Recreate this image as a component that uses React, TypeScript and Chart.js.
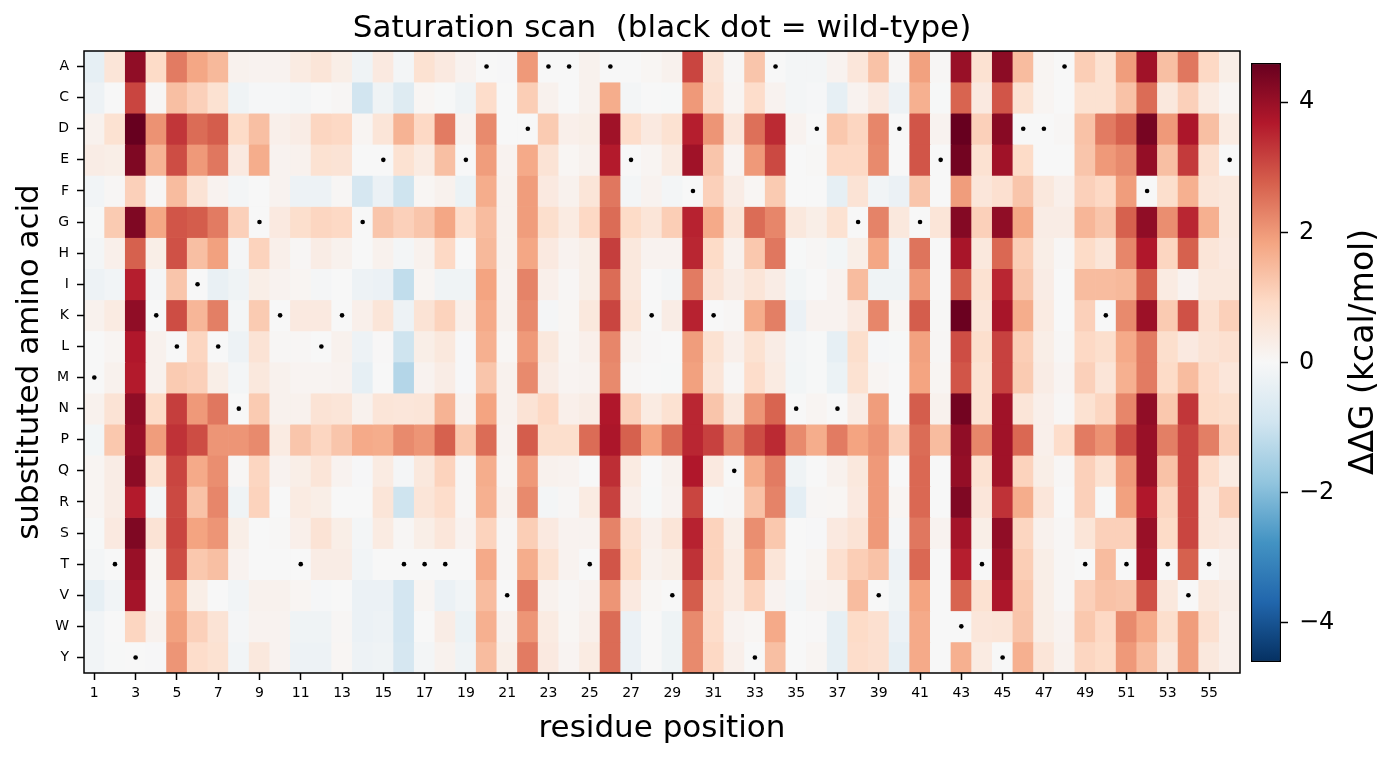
import React, { useEffect, useRef } from 'react';
import { Chart, registerables } from 'chart.js';

Chart.register(...registerables);

const TITLE = 'Saturation scan  (black dot = wild-type)';
const X_LABEL = 'residue position';
const Y_LABEL = 'substituted amino acid';
const CB_LABEL = 'ΔΔG (kcal/mol)';

const AMINO_ACIDS = ['A', 'C', 'D', 'E', 'F', 'G', 'H', 'I', 'K', 'L', 'M', 'N', 'P', 'Q', 'R', 'S', 'T', 'V', 'W', 'Y'];
const POSITIONS = Array.from({ length: 56 }, (_, i) => String(i + 1));
const WILD_TYPE = 'MTYKLILNGKTLKGETTTEAVDAATAEKVFKQYANDNGVDGEWTYDDATKTFTVTE'.split('');
const CB_TICKS = [-4, -2, 0, 2, 4];
const VMIN = -4.6;
const VMAX = 4.6;

// ddG per substituted amino acid (rows), positions 1..56
const DDG_A = [-0.4,0.6,4.1,0.9,2.4,1.8,1.5,0.2,0.15,0.15,0.4,0.6,0.3,-0.2, 0.45,-0.1,0.7,0.45,0.15,0,-0.03,2.0,0,0,0.2,0,0,0.08, 0.2,3.1,0.65,0.05,1.3,0,-0.1,-0.1,0.15,0.55,1.35,0.05,1.9,0.05, 4.0,0.7,4.15,1.45,0.1,0,1.15,0.7,1.95,3.9,1.4,2.45,0.95,0.3];
const DDG_C = [-0.25,0,3.1,0.05,1.4,1.1,0.7,-0.2,-0.05,-0.05,-0.1,0,0.05,-0.9, -0.2,-0.6,0.08,-0.02,-0.2,0.85,0,1.15,0.2,0,0.2,1.7,-0.1,0, -0.02,2.0,0.75,0.1,0.85,0.15,-0.1,-0.06,-0.4,0.15,0.45,-0.25,1.65,-0.02, 2.7,0.45,2.9,0.7,0.1,0,0.7,0.7,1.35,2.6,0.5,1.1,0.4,0.1];
const DDG_D = [0.2,0.7,4.6,2.1,3.3,2.6,2.8,0.9,1.4,0.25,0.35,1.0,0.95,0.1, 0.6,1.6,0.95,2.4,0.15,2.2,0,0,1.2,0.25,0.3,3.9,0.85,0.45, 0.7,3.6,2.05,0.55,2.55,3.45,0.15,0,1.25,1.0,2.25,0,2.9,0.15, 4.6,1.1,4.2,0,0,0.05,1.35,2.4,2.75,4.4,2.0,3.75,1.4,0.4];
const DDG_E = [0.35,0.3,4.3,1.6,3.0,2.0,2.45,0.45,1.7,0.15,0.2,0.7,0.65,0, 0,0.7,0.4,1.4,0,1.95,0.15,1.75,0.65,0.08,0.2,3.65,0,0.1, 0.4,3.9,1.3,0.12,2.0,3.05,0,0.03,0.95,0.95,2.2,0,2.9,0, 4.45,0.7,3.9,0.9,0,0,1.3,2.0,2.2,4.05,1.4,3.25,0.75,0];
const DDG_F = [-0.15,0.05,1.1,0.05,1.45,0.65,0.15,-0.1,0,0.15,-0.25,-0.25,0.05,-0.8, -0.3,-0.95,0.08,0.2,-0.28,1.7,0.2,1.95,0.45,0.2,0.6,2.45,-0.1,0.15, -0.1,0,1.1,0.35,0.08,1.2,0,0,-0.4,0.65,-0.15,-0.3,1.3,0, 1.95,0.55,0.75,1.3,0.5,0.25,1.1,0.95,1.95,0,0.8,1.65,0.6,0.5];
const DDG_G = [-0.02,1.2,4.3,1.8,2.9,2.8,2.4,1.1,0,0.45,0.8,1.0,0.95,0, 1.3,1.1,1.3,1.8,0.85,1.45,0.2,1.95,0.8,0.4,0.95,2.6,0.9,0.6, 1.15,3.55,1.75,0.6,2.6,2.25,0.5,0.3,0.7,0,2.3,0.5,0,0.6, 4.25,1.1,4.1,1.8,0.35,0.35,1.55,1.3,2.75,4.1,2.15,3.5,1.65,0.5];
const DDG_H = [-0.1,0.25,2.75,0.3,2.95,1.4,1.9,-0.08,1.05,0.25,0.05,0.35,0.2,0, 0.2,-0.1,0.2,0.95,0,1.5,0.2,1.8,0.45,0.15,0.3,3.2,0.5,0.15, 0.15,3.5,0.9,0.2,1.25,2.45,-0.02,0.05,-0.12,0.3,1.8,-0.15,2.5,0, 3.8,0.5,2.65,1.15,0.3,0.05,0.9,0.6,2.25,3.7,1.0,2.75,0.6,0.45];
const DDG_I = [-0.25,-0.15,3.6,-0.08,1.3,0,-0.35,-0.2,0.3,0.15,0.1,-0.08,0,-0.25, -0.3,-1.15,0.1,-0.2,-0.2,1.85,0.15,2.3,0.25,0.05,0.3,2.6,0.5,0, -0.1,2.4,0.65,0.35,0.6,0.35,-0.12,0,0.15,1.45,-0.2,-0.2,2.0,0, 2.8,0.7,3.5,1.3,0.35,0,1.45,1.45,1.5,2.75,0.4,0.15,0.5,0.5];
const DDG_K = [0.2,0.4,4.1,0,3.0,1.55,2.35,-0.1,1.2,0,0.45,0.45,0,0.25, 0.6,-0.25,0.65,1.05,0.25,1.75,0.2,2.2,-0.08,0.08,0.5,3.1,0.6,0, 0.35,3.55,0,0.05,1.7,2.35,-0.3,0.15,0.15,0.45,2.25,0.1,2.8,0.03, 4.55,0.6,3.8,1.7,0.4,0,1.1,0,2.2,3.95,1.2,2.95,0.75,1.1];
const DDG_L = [0,0.1,3.7,0.2,0,1.0,0,-0.25,0.65,0.05,0.05,0,0.2,-0.25, 0.02,-0.95,0.3,0.5,-0.03,1.65,0.08,2.0,0.5,0.1,0.25,2.25,0.2,0.02, 0,1.95,0.7,0.25,0.7,0.35,-0.1,-0.02,-0.4,0.8,-0.06,-0.02,1.9,0.05, 3.0,0.8,3.15,1.15,0.3,0.05,0.95,0.8,1.75,2.4,0.8,0.45,0.65,0.75];
const DDG_M = [0,0.2,3.65,0.2,1.2,1.1,0.3,-0.1,0.5,0.2,0.12,0.12,0.15,-0.4, 0,-1.35,0.15,0.35,-0.03,1.3,0.2,2.2,0.35,0.12,0.15,2.2,0.05,0, -0.02,1.9,0.6,0.05,0.85,0.4,-0.12,-0.02,-0.28,0.7,0.1,0,1.85,0.1, 2.9,0.7,3.15,1.2,0.35,0.12,1.1,0.6,1.65,2.4,0.9,1.45,0.85,0.55];
const DDG_N = [0.2,0.65,4.1,0.9,3.2,2.0,2.45,0,1.2,0.2,0.2,0.65,0.6,0.2, 0.6,0.55,0.6,1.6,0.15,1.85,0.2,0.65,0.95,0.25,0.35,3.7,1.1,0.4, 0.7,3.5,1.3,0.5,2.05,2.7,0,0.1,0,0.35,1.95,0,2.8,0.2, 4.45,0.7,3.9,0.6,0.25,0.05,0.7,1.0,2.25,4.1,1.25,3.3,0.9,0.8];
const DDG_P = [-0.12,1.25,4.0,1.95,3.35,3.0,2.05,2.05,2.2,0.4,1.3,1.0,1.3,1.75, 1.7,2.2,2.05,2.75,1.25,2.6,0.15,2.8,0.8,0.8,2.6,3.75,2.75,1.85, 2.6,3.5,3.15,2.3,3.0,3.45,2.2,1.7,2.4,1.85,2.1,1.1,2.6,1.45, 4.1,2.25,3.9,2.65,0.25,0.85,2.4,2.1,3.0,4.0,2.35,3.1,2.35,1.1];
const DDG_Q = [0.1,0.35,4.15,0.7,3.1,1.75,2.15,0.05,1.0,0.15,0.3,0.6,0.15,-0.03, 0.4,-0.08,0.5,1.05,0.05,1.7,0.1,2.0,0.2,0.15,0,3.4,0.4,0, 0.2,3.7,0.45,0,1.7,2.4,-0.2,0,0.2,0.5,2.0,0,2.65,0, 4.05,0.7,3.9,1.05,0.3,0.05,1.1,0.7,2.0,4.0,1.35,3.1,0.85,0.4];
const DDG_R = [0.1,0.35,3.65,-0.1,3.05,1.35,2.25,-0.2,1.05,0,0.4,0.3,0,0, 0.6,-0.95,0.6,0.85,0.05,1.65,0.2,2.2,-0.1,0.05,0.4,3.15,0.25,-0.02, 0.15,3.1,-0.02,0.05,1.35,2.3,-0.45,0.05,0.08,0.45,2.0,0.1,2.65,0, 4.3,0.55,3.35,1.7,0.55,0,1.1,-0.02,1.9,3.7,1.0,3.1,0.55,1.1];
const DDG_S = [-0.02,0.45,4.3,0.65,3.1,1.85,2.05,0.3,0,0.03,0.25,0.65,0.3,-0.1, 0.4,0.05,0.3,0.55,0.15,1.05,0.05,1.15,0.45,0.15,0.15,2.3,0.75,0.25, 0.6,3.55,1.05,0.3,2.15,1.25,0,-0.03,0.45,0.65,2.0,-0.08,2.45,0.15, 3.85,0.3,4.1,1.0,0.2,0.05,0.6,1.1,1.1,4.0,0.9,3.1,0.55,0.45];
const DDG_T = [-0.1,0,4.0,0.1,3.0,1.25,1.4,0.15,0,0,0,0.35,0.35,-0.15, 0,0,0,0,0,1.75,0.05,1.7,0.7,0.15,0,2.9,0.9,0.2, 0.3,3.35,1.05,0.4,1.9,0.6,0,0.1,0.75,1.15,1.35,-0.25,2.65,0, 3.6,0,3.95,1.15,0.3,0.05,0,1.45,0,3.9,0,2.75,0,0.2];
const DDG_V = [-0.4,-0.15,3.85,0.05,1.75,0.3,0,-0.15,0.2,0.2,0.1,-0.05,0,-0.3, -0.3,-0.85,0.1,-0.3,-0.15,1.45,0,2.4,0.2,0.05,0.15,2.05,0.45,0.08, 0,2.8,0.75,0.4,1.05,0.15,-0.1,0.15,0.2,1.45,0,-0.2,1.85,0, 2.7,0.7,3.75,1.25,0.3,0.05,1.1,1.35,1.3,2.95,0.5,0,0.5,0.35];
const DDG_W = [-0.15,0,1.0,0.2,1.9,1.1,0.65,-0.08,0.15,0.15,-0.2,-0.2,0.05,-0.3, -0.25,-0.85,0,0.35,-0.28,1.65,0.2,2.05,0.4,0.08,0.25,2.6,-0.3,0, -0.22,2.2,0.85,0.15,0.08,1.75,0,0.02,-0.4,0.9,0.75,-0.3,1.75,0, 0,0.55,0.6,1.3,0.3,0.15,1.25,0.95,2.2,1.75,0.8,1.95,0.75,0.25];
const DDG_Y = [-0.15,-0.02,0,-0.03,2.05,0.85,0.7,-0.15,0.5,0.15,-0.25,-0.25,0.08,-0.25, -0.2,-0.8,-0.1,0.2,-0.2,1.45,0.3,2.4,0.45,0.12,0.4,2.6,-0.3,0, -0.22,2.2,0.95,0.25,0,1.4,0,0.1,-0.4,0.85,0.75,-0.4,1.75,0, 1.65,0.4,0,1.65,0.6,0.2,1.0,0.9,2.0,1.45,0.5,1.95,0.5,0.25];

const DDG_ROWS = [DDG_A, DDG_C, DDG_D, DDG_E, DDG_F, DDG_G, DDG_H, DDG_I, DDG_K, DDG_L, DDG_M, DDG_N, DDG_P, DDG_Q, DDG_R, DDG_S, DDG_T, DDG_V, DDG_W, DDG_Y];

// RdBu_r colormap anchors (low -> high)
const RDBU_R = [
  [5, 48, 97], [33, 102, 172], [67, 147, 195], [146, 197, 222], [209, 229, 240],
  [247, 247, 247], [253, 219, 199], [244, 165, 130], [214, 96, 77], [178, 24, 43], [103, 0, 31],
];

function colorFor(v: number): string {
  let t = (v - VMIN) / (VMAX - VMIN);
  t = Math.max(0, Math.min(1, t));
  const pos = t * (RDBU_R.length - 1);
  const i = Math.min(RDBU_R.length - 2, Math.floor(pos));
  const f = pos - i;
  const a = RDBU_R[i];
  const b = RDBU_R[i + 1];
  const c = a.map((av, k) => Math.round(av + (b[k] - av) * f));
  return `rgb(${c[0]},${c[1]},${c[2]})`;
}

const FONT = "'DejaVu Sans', 'Liberation Sans', sans-serif";
const LABEL_SIZE = 31;
const CB_LABEL_SIZE = 33;

const framePlugin = {
  id: 'frame',
  afterDatasetsDraw(chart: any) {
    const { ctx, chartArea: a } = chart;
    ctx.save();
    ctx.strokeStyle = '#000';
    ctx.lineWidth = 1.5;
    ctx.strokeRect(a.left, a.top, a.right - a.left, a.bottom - a.top);
    ctx.restore();
  },
};

const cbLabelPlugin = {
  id: 'cbLabel',
  afterDraw(chart: any) {
    const { ctx } = chart;
    ctx.save();
    ctx.translate(119, 352);
    ctx.rotate(-Math.PI / 2);
    ctx.font = `${CB_LABEL_SIZE}px ${FONT}`;
    ctx.fillStyle = '#000';
    ctx.textAlign = 'center';
    ctx.textBaseline = 'middle';
    ctx.fillText(CB_LABEL, 0, 0);
    ctx.restore();
  },
};

export default function App() {
  const mainRef = useRef<HTMLCanvasElement>(null);
  const cbRef = useRef<HTMLCanvasElement>(null);

  useEffect(() => {
    Chart.defaults.font.family = FONT;
    Chart.defaults.color = '#000';

    const datasets: any[] = AMINO_ACIDS.map((aa, r) => ({
      type: 'bar',
      label: aa,
      data: DDG_ROWS[r].map(() => [r - 0.5, r + 0.5]),
      backgroundColor: DDG_ROWS[r].map((v) => colorFor(v)),
      borderWidth: 0,
      barPercentage: 1,
      categoryPercentage: 1,
      grouped: false,
      order: 2,
    }));
    datasets.push({
      type: 'scatter',
      label: 'wild-type',
      data: WILD_TYPE.map((aa, i) => ({ x: POSITIONS[i], y: AMINO_ACIDS.indexOf(aa) })),
      backgroundColor: '#000',
      borderColor: '#000',
      borderWidth: 0,
      pointRadius: 2.3,
      pointHoverRadius: 2.3,
      order: 0,
    });

    const main = new Chart(mainRef.current!, {
      type: 'bar',
      data: { labels: POSITIONS, datasets },
      options: {
        responsive: false,
        animation: false,
        events: [],
        layout: { padding: { left: 0, right: 156, top: 0, bottom: 0 } },
        plugins: {
          legend: { display: false },
          tooltip: { enabled: false },
          title: {
            display: true,
            fullSize: false,
            text: TITLE,
            color: '#000',
            font: { size: LABEL_SIZE, weight: 'normal', family: FONT },
            padding: { top: 10.4, bottom: 3.4 },
          },
        },
        scales: {
          x: {
            type: 'category',
            offset: true,
            border: { display: false },
            grid: {
              offset: false,
              drawOnChartArea: false,
              drawTicks: true,
              tickLength: 7,
              tickWidth: 1.5,
              tickColor: (ctx: any) => (ctx.index % 2 === 0 ? '#000' : 'rgba(0,0,0,0)'),
            },
            ticks: {
              autoSkip: false,
              maxRotation: 0,
              minRotation: 0,
              padding: 5,
              color: '#000',
              font: { size: 14 },
              callback: (_v: any, i: number) => (i % 2 === 0 ? POSITIONS[i] : ''),
            },
            title: {
              display: true,
              text: X_LABEL,
              color: '#000',
              font: { size: LABEL_SIZE },
              padding: { top: 0, bottom: 11.4 },
            },
            afterFit: (s: any) => { s.height = 86; },
          },
          y: {
            type: 'linear',
            reverse: true,
            min: -0.5,
            max: 19.5,
            border: { display: false },
            afterBuildTicks: (s: any) => { s.ticks = AMINO_ACIDS.map((_, i) => ({ value: i })); },
            grid: { drawOnChartArea: false, tickLength: 7, tickWidth: 1.5, tickColor: '#000' },
            ticks: {
              autoSkip: false,
              padding: 8,
              color: '#000',
              font: { size: 14 },
              callback: (v: any) => AMINO_ACIDS[v] ?? '',
            },
            title: {
              display: true,
              text: Y_LABEL,
              color: '#000',
              font: { size: LABEL_SIZE },
              padding: { top: 11.4, bottom: 0 },
            },
            afterFit: (s: any) => { s.width = 84; },
          },
        },
      } as any,
      plugins: [framePlugin],
    });

    const cb = new Chart(cbRef.current!, {
      type: 'bar',
      data: {
        labels: [''],
        datasets: [{
          data: [[VMIN, VMAX]],
          backgroundColor: (ctx: any) => {
            const c = ctx.chart;
            if (!c.chartArea) return '#fff';
            const ys = c.scales.y;
            const g = c.ctx.createLinearGradient(0, ys.getPixelForValue(VMIN), 0, ys.getPixelForValue(VMAX));
            RDBU_R.forEach((col, i) => g.addColorStop(i / (RDBU_R.length - 1), `rgb(${col[0]},${col[1]},${col[2]})`));
            return g;
          },
          borderColor: '#000',
          borderWidth: 1.5,
          borderSkipped: false,
          barPercentage: 1,
          categoryPercentage: 1,
        }] as any,
      },
      options: {
        responsive: false,
        animation: false,
        events: [],
        layout: { padding: { left: 6, right: 0, top: 63, bottom: 97 } },
        plugins: { legend: { display: false }, tooltip: { enabled: false }, title: { display: false } },
        scales: {
          x: { display: false },
          y: {
            position: 'right',
            min: VMIN,
            max: VMAX,
            border: { display: false },
            afterBuildTicks: (s: any) => { s.ticks = CB_TICKS.map((v) => ({ value: v })); },
            grid: { drawOnChartArea: false, tickLength: 7, tickWidth: 1.5, tickColor: '#000' },
            ticks: {
              padding: 11,
              color: '#000',
              font: { size: 24 },
              callback: (v: any) => (v < 0 ? '\u2212' + Math.abs(v) : String(v)),
            },
            afterFit: (s: any) => { s.width = 115; },
          },
        },
      } as any,
      plugins: [cbLabelPlugin],
    });

    return () => {
      main.destroy();
      cb.destroy();
    };
  }, []);

  return (
    <div style={{ position: 'absolute', left: 0, top: 0, width: 1396, height: 759, background: '#fff', overflow: 'hidden' }}>
      <canvas ref={mainRef} width={1396} height={759} style={{ position: 'absolute', left: 0, top: 0, width: 1396, height: 759 }} />
      <canvas ref={cbRef} width={151} height={759} style={{ position: 'absolute', left: 1245, top: 0, width: 151, height: 759 }} />
    </div>
  );
}
